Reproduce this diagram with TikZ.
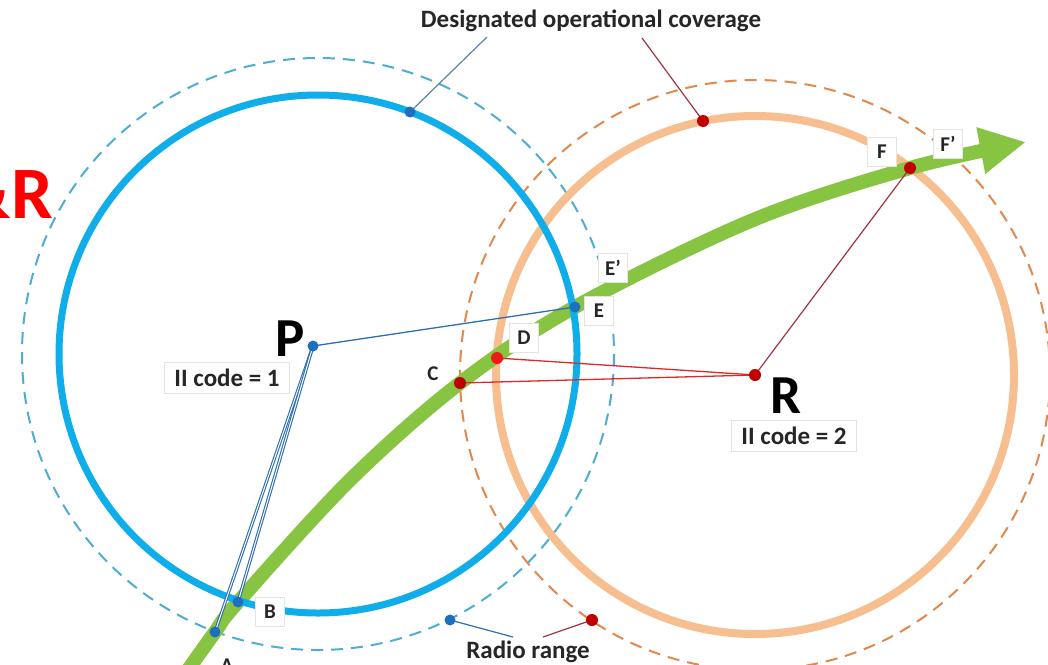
\documentclass[tikz,border=0pt]{standalone}
\usepackage{fontspec}
\setmainfont{Carlito}
\usetikzlibrary{arrows.meta}
\definecolor{blueC}{HTML}{0FAEEB}
\definecolor{blueD}{HTML}{4FAED0}
\definecolor{orangeC}{HTML}{F7BE90}
\definecolor{orangeD}{HTML}{E2884C}
\definecolor{greenA}{HTML}{86C441}
\definecolor{dotB}{HTML}{1F6FC0}
\definecolor{dotR}{HTML}{C00000}
\definecolor{dotRb}{HTML}{F01818}
\definecolor{lineB}{HTML}{2E6FB4}
\definecolor{lineBg}{HTML}{5B82AD}
\definecolor{lineR}{HTML}{E02828}
\definecolor{lineRd}{HTML}{A23340}
\definecolor{txt}{HTML}{262626}
\begin{document}
\begin{tikzpicture}[x=1pt,y=-1pt,
  bdot/.style={circle,fill=dotB,minimum size=11pt,inner sep=0pt},
  rdot/.style={circle,fill=dotR,minimum size=12pt,inner sep=0pt},
  rdotb/.style={circle,fill=dotRb,minimum size=12pt,inner sep=0pt},
  lbl/.style={draw=gray!22,fill=white,text=txt,font=\bfseries\fontsize{21}{21}\selectfont,minimum width=29pt,minimum height=29pt,inner sep=0pt},
  plainlbl/.style={text=txt,font=\bfseries\fontsize{21}{21}\selectfont,inner sep=0pt},
  codebox/.style={draw=gray!22,fill=white,text=txt,font=\bfseries\fontsize{25}{25}\selectfont,minimum height=31pt,inner xsep=10pt},
  bigl/.style={text=black,font=\bfseries\fontsize{55}{55}\selectfont,inner sep=0pt},
  note/.style={text=txt,font=\bfseries\fontsize{25}{25}\selectfont,inner sep=0pt},
  dashc/.style={line width=2pt,dash pattern=on 12pt off 8pt}]
\useasboundingbox (0,0) rectangle (1048,664);
\fill[white] (0,0) rectangle (1048,664);

% centres
\coordinate (Pc) at (318,354);
\coordinate (Rc) at (755,375);

% radio range (dashed) circles
\draw[blueD,dashc] (Pc) circle[radius=296];
\draw[orangeD,dashc] (Rc) circle[radius=295];

% coverage circle of R
\draw[orangeC,line width=8pt] (Rc) circle[radius=259];

% green trajectory
\draw[greenA,line width=14pt,-{Triangle[length=46pt,width=44pt]}]
  plot[smooth,tension=0.55] coordinates {(178,684) (215,632) (238,602) (350,480) (460,383) (575,307) (753,220) (910,168) (1026,142)};

% coverage circle of P
\draw[blueC,line width=7pt] (Pc) circle[radius=259];

% points
\coordinate (P) at (313,346);
\coordinate (E) at (575,307);
\coordinate (B) at (238,602);
\coordinate (A) at (215,632);
\coordinate (C) at (460,383);
\coordinate (D) at (497,358);
\coordinate (R) at (755,375);
\coordinate (F) at (910,168);
\coordinate (cb) at (410,112);
\coordinate (cr) at (703,121);
\coordinate (rb) at (450,620);
\coordinate (rr) at (592,620);

% connectors
\draw[lineB,line width=1.3pt] (P) -- (E);
\draw[lineB,line width=1.1pt,double=white,double distance=1pt] (P) -- (A);
\draw[lineB,line width=1.1pt,double=white,double distance=1pt] (P) -- (B);
\draw[lineR,line width=1.3pt] (R) -- (C);
\draw[lineR,line width=1.3pt] (R) -- (D);
\draw[lineRd,line width=1.2pt] (R) -- (F);

% annotation texts
\node[note] (cov) at (591,21) {Designated operational coverage};
\node[note] (rad) at (528,652) {Radio range};
\coordinate (covb) at (487,37);
\coordinate (covr) at (642,38);
\coordinate (radb) at (513,637);
\coordinate (radr) at (543,637);
\draw[lineBg,line width=1.2pt] (covb) -- (cb);
\draw[lineRd,line width=1.2pt] (covr) -- (cr);
\draw[lineB,line width=1.2pt] (radb) -- (rb);
\draw[lineRd,line width=1.2pt] (radr) -- (rr);

% labels
\node[lbl] (lE) at (599,311) {E};
\node[lbl] (lEp) at (613,268) {E’};
\node[lbl] (lD) at (524,338) {D};
\node[lbl] (lF) at (882,152) {F};
\node[lbl] (lFp) at (948,144) {F’};
\node[lbl] (lB) at (270,612) {B};
\node[plainlbl] (lC) at (433,374) {C};
\node[plainlbl] (lA) at (227,666) {A};

% dots
\node[bdot] (dP) at (P) {};
\node[bdot] (dE) at (E) {};
\node[bdot] (dB) at (B) {};
\node[bdot] (dA) at (A) {};
\node[bdot] (dcb) at (cb) {};
\node[bdot] (drb) at (rb) {};
\node[rdot] (dC) at (C) {};
\node[rdotb] (dD) at (D) {};
\node[rdot] (dR) at (R) {};
\node[rdot] (dF) at (F) {};
\node[rdot] (dcr) at (cr) {};
\node[rdot] (drr) at (rr) {};

% station labels
\node[bigl] (tP) at (290,339) {P};
\node[bigl] (tR) at (786,396) {R};
\node[codebox] (code1) at (227,378) {II code = 1};
\node[codebox] (code2) at (794,436) {II code = 2};
\node[anchor=base east,text=red,font=\bfseries\fontsize{74}{74}\selectfont,inner sep=0pt] (amp) at (53,218) {\&R};
\end{tikzpicture}
\end{document}
